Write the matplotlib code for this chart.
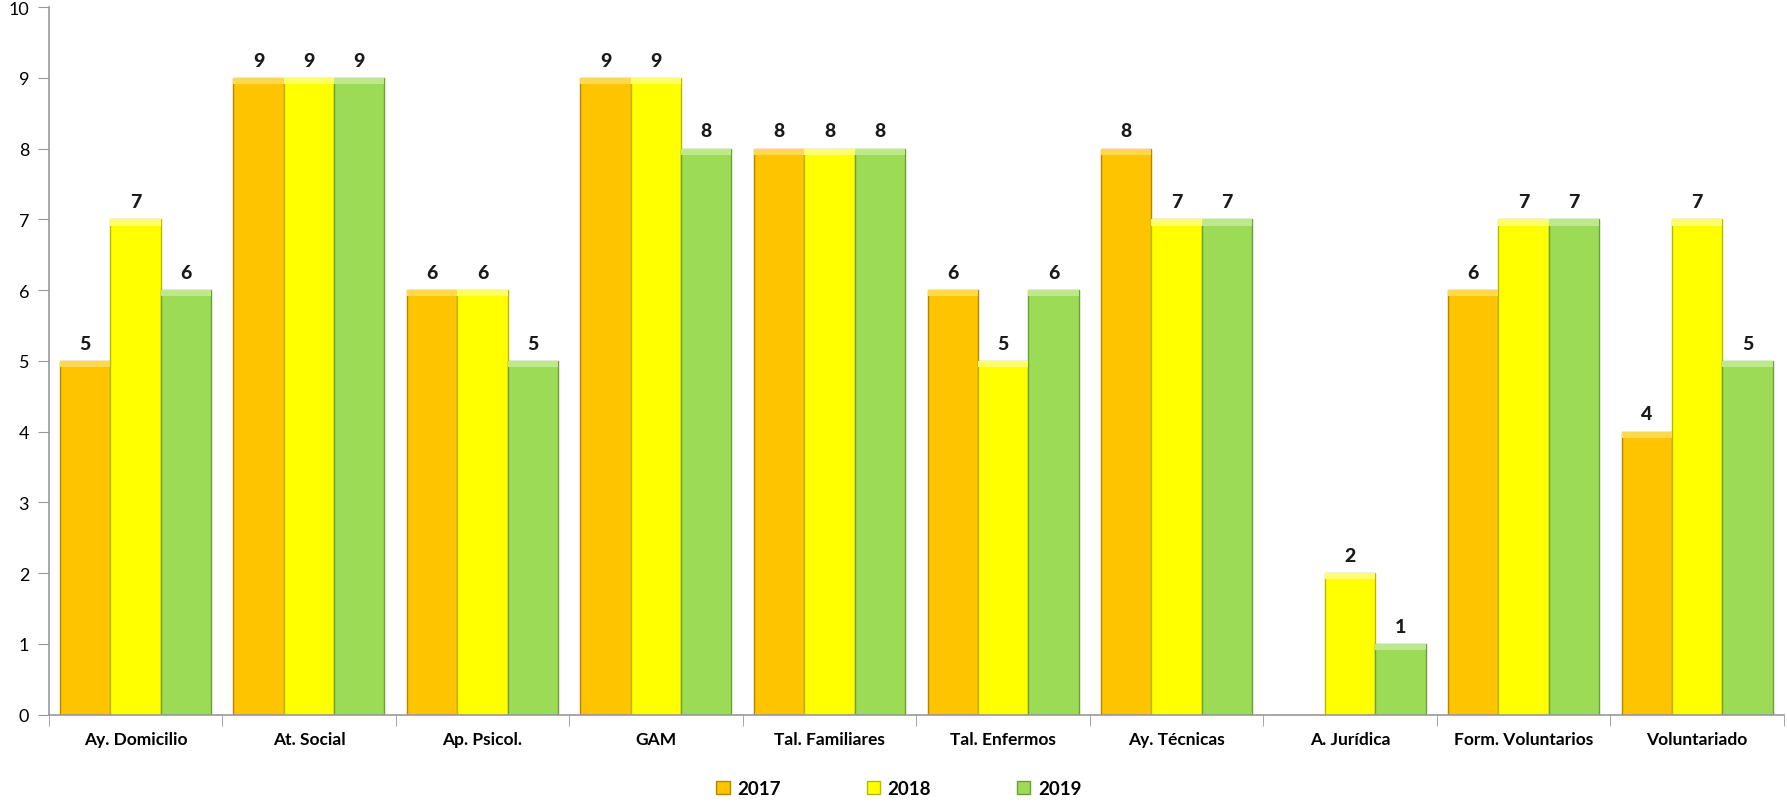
import numpy as np
import matplotlib.pyplot as plt
from matplotlib.patches import Rectangle

categories = ["Ay. Domicilio", "At. Social", "Ap. Psicol.", "GAM", "Tal. Familiares",
              "Tal. Enfermos", "Ay. Técnicas", "A. Jurídica", "Form. Voluntarios", "Voluntariado"]
years = ["2017", "2018", "2019"]
v2017 = [5, 9, 6, 9, 8, 6, 8, 0, 6, 4]
v2018 = [7, 9, 6, 9, 8, 5, 7, 2, 7, 7]
v2019 = [6, 9, 5, 8, 8, 6, 7, 1, 7, 5]

face_colors = ["#FFC400", "#FFFF00", "#9BDB55"]
edge_colors = ["#B38600", "#B8B800", "#6E9E3A"]
top_colors = ["#FFD84D", "#FFFF66", "#BDE98A"]

plt.rcParams["font.family"] = ["Lato", "DejaVu Sans"]

fig = plt.figure(figsize=(17.87, 8.04), dpi=100)
ax = fig.add_axes([0.0272, 0.11, 0.9711, 0.88])

x = np.arange(len(categories))
w = 0.29
series = [v2017, v2018, v2019]
handles = []
for i, vals in enumerate(series):
    offs = (i - 1) * w
    bars = ax.bar(x + offs, vals, width=w, color=face_colors[i],
                  edgecolor=edge_colors[i], linewidth=1.0, label=years[i], zorder=2)
    handles.append(bars)
    for b, v in zip(bars, vals):
        if v <= 0:
            continue
        # light bevel on top of each bar
        ax.add_patch(Rectangle((b.get_x(), v - 0.09), b.get_width(), 0.09,
                               facecolor=top_colors[i], edgecolor="none", zorder=3))
        ax.text(b.get_x() + b.get_width() / 2, v + 0.13, str(v),
                ha="center", va="bottom", fontsize=14, fontweight="black", color="#1a1a1a")

ax.set_xlim(-0.5, len(categories) - 0.5)
ax.set_ylim(0, 10)
ax.set_yticks(range(0, 11))
ax.tick_params(axis="y", labelsize=13, length=8, color="#999999", pad=6)
ax.set_xticks(x)
ax.set_xticklabels(categories, fontsize=12.5, fontweight="bold")
ax.set_xticks(np.arange(len(categories) + 1) - 0.5, minor=True)
ax.tick_params(axis="x", which="major", length=0, pad=12)
ax.tick_params(axis="x", which="minor", length=8, color="#999999")

for s in ["top", "right"]:
    ax.spines[s].set_visible(False)
for s in ["left", "bottom"]:
    ax.spines[s].set_color("#999999")
    ax.spines[s].set_linewidth(1.2)

leg = fig.legend(handles=handles, labels=years, loc="lower center", ncol=3,
                 bbox_to_anchor=(0.503, -0.014), frameon=False,
                 handlelength=0.7, handleheight=0.7, columnspacing=4.6, handletextpad=0.4,
                 prop={"weight": "bold", "size": 13.5})

fig.savefig("out.png", dpi=100)
